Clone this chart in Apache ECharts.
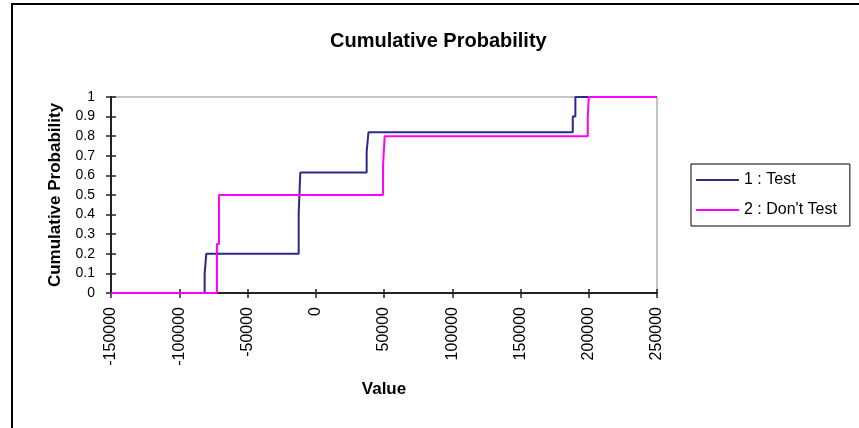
<!DOCTYPE html>
<html>
<head>
<meta charset="utf-8">
<title>Cumulative Probability</title>
<script src="https://cdn.jsdelivr.net/npm/echarts@6/dist/echarts.min.js"></script>
<style>
  html, body { margin: 0; padding: 0; background: #fff; }
  #chart { width: 859px; height: 428px; }
</style>
</head>
<body>
<div id="chart"></div>
<script>
// step points of the two cumulative curves (value, probability)
var testX = [-150000, -81400, -80200, -12500, -11300, 37300, 38600, 188300, 190200, 200000];
var testY = [0, 0.1, 0.2, 0.41, 0.615, 0.72, 0.82, 0.9, 1, 1];
var dontX = [-150000, -72400, -70900, 49300, 50500, 199300, 200000, 250000];
var dontY = [0, 0.25, 0.5, 0.65, 0.8, 0.9, 1, 1];

var seriesNames = ['1 : Test', "2 : Don't Test"];

var xMin = -150000, xMax = 250000, xStep = 50000;
var yMin = 0, yMax = 1, yStep = 0.1;

function pairs(xs, ys) {
  var out = [];
  for (var i = 0; i < xs.length; i++) {
    out.push([xs[i], ys[i]]);
  }
  return out;
}

var font = 'Liberation Sans, Arial, sans-serif';

var chart = echarts.init(document.getElementById('chart'));

chart.setOption({
  animation: false,
  title: {
    text: 'Cumulative Probability',
    left: 325,
    top: 26,
    textStyle: { fontFamily: font, fontSize: 20, fontWeight: 'bold', color: '#000' }
  },
  legend: {
    orient: 'vertical',
    left: 691,
    top: 164,
    data: seriesNames,
    icon: 'rect',
    itemWidth: 43,
    itemHeight: 2,
    itemGap: 12,
    padding: [7, 13, 7, 5],
    borderColor: '#000',
    borderWidth: 1,
    textStyle: { fontFamily: font, fontSize: 16, color: '#000', lineHeight: 18 }
  },
  grid: {
    left: 111,
    right: 202,
    top: 97,
    bottom: 135,
    show: true,
    borderColor: '#888',
    borderWidth: 1
  },
  xAxis: [{
    type: 'value',
    min: xMin,
    max: xMax,
    interval: xStep,
    position: 'bottom',
    name: 'Value',
    nameLocation: 'middle',
    nameGap: 88,
    nameTextStyle: { fontFamily: font, fontSize: 17, fontWeight: 'bold', color: '#000' },
    axisLine: { onZero: false, lineStyle: { color: '#222', width: 2 } },
    axisTick: { length: 5, lineStyle: { color: '#222', width: 1.5 } },
    axisLabel: {
      rotate: 90,
      margin: 14,
      fontFamily: font,
      fontSize: 16,
      color: '#000',
      formatter: function (v) { return String(v); }
    },
    splitLine: { show: false }
  }, {
    // second axis only for the inner half of the crossing ticks
    type: 'value',
    min: xMin,
    max: xMax,
    interval: xStep,
    position: 'bottom',
    axisLine: { show: false, onZero: false },
    axisTick: { inside: true, length: 4, lineStyle: { color: '#222', width: 1.5 } },
    axisLabel: { show: false },
    splitLine: { show: false }
  }],
  yAxis: [{
    type: 'value',
    min: yMin,
    max: yMax,
    interval: yStep,
    position: 'left',
    name: 'Cumulative Probability',
    nameLocation: 'middle',
    nameGap: 47,
    nameTextStyle: { fontFamily: font, fontSize: 17, fontWeight: 'bold', color: '#000' },
    axisLine: { show: true, onZero: false, lineStyle: { color: '#222', width: 2 } },
    axisTick: { show: true, length: 5, lineStyle: { color: '#222', width: 1.5 } },
    axisLabel: { margin: 16, fontFamily: font, fontSize: 14, color: '#000' },
    splitLine: { show: false }
  }, {
    type: 'value',
    min: yMin,
    max: yMax,
    interval: yStep,
    position: 'left',
    axisLine: { show: false, onZero: false },
    axisTick: { show: true, inside: true, length: 5, lineStyle: { color: '#222', width: 1.5 } },
    axisLabel: { show: false },
    splitLine: { show: false }
  }],
  graphic: [{
    // chart area border, runs off the right and bottom edge like the screenshot
    type: 'rect',
    shape: { x: 12, y: 4, width: 900, height: 500 },
    style: { fill: 'none', stroke: '#000', lineWidth: 2 },
    silent: true
  }],
  series: [{
    name: seriesNames[0],
    type: 'line',
    step: 'end',
    symbol: 'none',
    data: pairs(testX, testY),
    color: '#2a2a8a',
    lineStyle: { width: 2, color: '#2a2a8a' }
  }, {
    name: seriesNames[1],
    type: 'line',
    step: 'end',
    symbol: 'none',
    data: pairs(dontX, dontY),
    color: '#ff00ff',
    lineStyle: { width: 2, color: '#ff00ff' }
  }]
});
</script>
</body>
</html>
